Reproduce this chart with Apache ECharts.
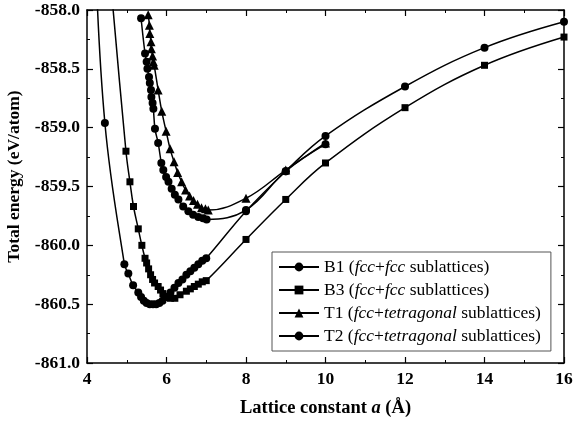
<!DOCTYPE html>
<html>
<head>
<meta charset="utf-8">
<script src="https://cdn.jsdelivr.net/npm/echarts@6/dist/echarts.min.js"></script>
<style>
html,body{margin:0;padding:0;background:#fff;}
#chart{width:573px;height:422px;}
</style>
</head>
<body>
<div id="chart"></div>
<script>
// lattice constant (A) / total energy (eV/atom)
var b1 = [[4.2,-857.4],[4.45,-858.96],[4.94,-860.16],[5.04,-860.24],[5.16,-860.34],[5.29,-860.40],
	[5.36,-860.44],[5.43,-860.47],[5.5,-860.49],[5.58,-860.50],[5.66,-860.50],[5.74,-860.50],[5.82,-860.49],
	[5.9,-860.47],[6.0,-860.44],[6.1,-860.40],[6.2,-860.36],[6.3,-860.32],[6.4,-860.29],[6.5,-860.25],
	[6.6,-860.22],[6.7,-860.19],[6.8,-860.16],[6.9,-860.13],[7.0,-860.11],[8,-859.71],[9,-859.37],
	[10,-859.07],[12,-858.65],[14,-858.32],[16,-858.10]];
var b3 = [[4.5,-857.4],[4.98,-859.20],[5.08,-859.46],[5.17,-859.67],[5.29,-859.86],[5.38,-860.00],
	[5.46,-860.11],[5.5,-860.15],[5.55,-860.20],[5.6,-860.25],[5.65,-860.29],[5.7,-860.32],[5.79,-860.35],
	[5.85,-860.38],[5.91,-860.41],[6.0,-860.44],[6.1,-860.45],[6.21,-860.45],[6.34,-860.42],[6.5,-860.39],
	[6.6,-860.37],[6.7,-860.35],[6.8,-860.33],[6.9,-860.31],[7.0,-860.30],[8,-859.95],[9,-859.61],
	[10,-859.30],[12,-858.83],[14,-858.47],[16,-858.23]];
var t1 = [[5.54,-858.04],[5.57,-858.13],[5.58,-858.20],[5.61,-858.27],[5.62,-858.33],[5.65,-858.39],
	[5.67,-858.44],[5.69,-858.47],[5.79,-858.68],[5.88,-858.86],[5.99,-859.03],[6.09,-859.18],[6.19,-859.29],
	[6.28,-859.38],[6.38,-859.46],[6.48,-859.53],[6.58,-859.58],[6.68,-859.62],[6.78,-859.65],[6.88,-859.68],
	[6.98,-859.69],[7.05,-859.70],[8,-859.60],[9,-859.36],[10,-859.13]];
var t2 = [[5.36,-858.07],[5.46,-858.37],[5.5,-858.44],[5.52,-858.50],[5.56,-858.57],[5.58,-858.62],
	[5.61,-858.68],[5.62,-858.74],[5.65,-858.79],[5.67,-858.84],[5.71,-859.01],[5.79,-859.13],[5.87,-859.30],
	[5.92,-859.36],[5.99,-859.42],[6.05,-859.46],[6.13,-859.52],[6.21,-859.57],[6.30,-859.61],[6.42,-859.67],
	[6.55,-859.71],[6.67,-859.74],[6.80,-859.76],[6.92,-859.77],[7.01,-859.78],[8,-859.70],[9,-859.37],
	[10,-859.14]];

var seriesNames = ['B1','B3','T1','T2'];
var legendText = {
	B1:'B1 ({i|fcc}+{i|fcc} sublattices)',
	B3:'B3 ({i|fcc}+{i|fcc} sublattices)',
	T1:'T1 ({i|fcc}+{i|tetragonal} sublattices)',
	T2:'T2 ({i|fcc}+{i|tetragonal} sublattices)'
};
var symbols = ['circle','rect','triangle','circle'];
var allData = [b1,b3,t1,t2];

var font = 'Liberation Serif';
var chart = echarts.init(document.getElementById('chart'));

var series = [];
for (var i = 0; i < allData.length; i++) {
	series.push({
		name: seriesNames[i],
		type: 'line',
		data: allData[i],
		smooth: 0.4,
		symbol: symbols[i],
		symbolSize: symbols[i]=='rect' ? 7 : (symbols[i]=='triangle' ? 9 : 8),
		lineStyle: {color:'#000', width:1.5},
		itemStyle: {color:'#000'},
		clip: true
	});
}

function axisBase(){
	return {
		axisLine: {show:true, lineStyle:{color:'#000', width:1.5}},
		axisTick: {show:true, inside:true, length:6, lineStyle:{color:'#000', width:1.2}},
		minorTick: {show:true, splitNumber:2, length:3, lineStyle:{color:'#000', width:1}},
		splitLine: {show:false}
	};
}

var xMain = axisBase();
xMain.type = 'value'; xMain.min = 4; xMain.max = 16; xMain.interval = 2;
xMain.axisLabel = {color:'#000', fontFamily:font, fontWeight:'bold', fontSize:17.5, margin:7};
xMain.name = 'Lattice constant {i|a} (Å)';
xMain.nameLocation = 'middle';
xMain.nameGap = 36;
xMain.nameTextStyle = {color:'#000', fontFamily:font, fontWeight:'bold', fontSize:18.5,
	rich:{i:{fontStyle:'italic', fontWeight:'bold', fontFamily:font, fontSize:18.5}}};

var xTop = axisBase();
xTop.type = 'value'; xTop.min = 4; xTop.max = 16; xTop.interval = 2; xTop.position = 'top';
xTop.axisLabel = {show:false};

var yMain = axisBase();
yMain.type = 'value'; yMain.min = -861; yMain.max = -858; yMain.interval = 0.5;
yMain.axisLabel = {color:'#000', fontFamily:font, fontWeight:'bold', fontSize:17.5, margin:7,
	formatter:function(v){ return v.toFixed(1); }};
yMain.name = 'Total energy (eV/atom)';
yMain.nameLocation = 'middle';
yMain.nameGap = 62;
yMain.nameTextStyle = {color:'#000', fontFamily:font, fontWeight:'bold', fontSize:17.5, padding:[0,0,0,20]};

var yRight = axisBase();
yRight.type = 'value'; yRight.min = -861; yRight.max = -858; yRight.interval = 0.5; yRight.position = 'right';
yRight.axisLabel = {show:false};

chart.setOption({
	animation: false,
	backgroundColor: '#fff',
	grid: {left:87, right:9, top:10, bottom:59, outerBoundsMode:'none'},
	xAxis: [xMain, xTop],
	yAxis: [yMain, yRight],
	legend: {
		orient: 'vertical',
		left: 272, top: 252,
		itemWidth: 40, itemHeight: 11, itemGap: 5,
		borderColor: '#555', borderWidth: 1, padding: [6,10,6,6],
		backgroundColor: '#fff',
		data: seriesNames,
		formatter: function(name){ return legendText[name]; },
		textStyle: {color:'#000', fontFamily:font, fontSize:17.5, lineHeight:18,
			rich:{i:{fontStyle:'italic', fontFamily:font, fontSize:17.5, lineHeight:18, color:'#000'}}}
	},
	series: series
});
</script>
</body>
</html>
